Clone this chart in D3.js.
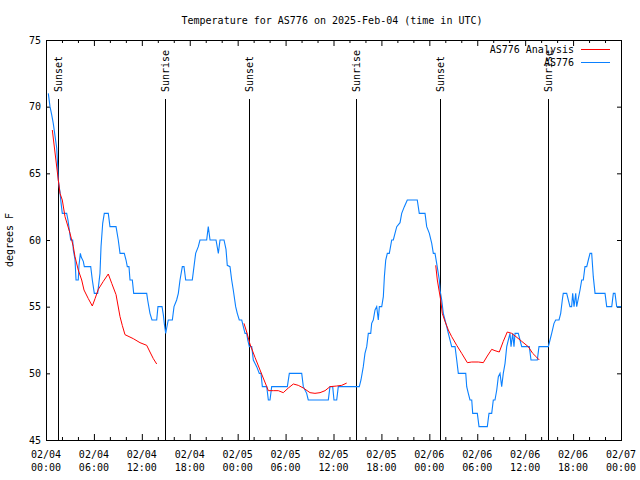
<!DOCTYPE html>
<html><head><meta charset="utf-8">
<script src="https://cdn.jsdelivr.net/npm/d3@7"></script>
<style>
body{margin:0;background:#fff;}
text{font-family:"DejaVu Sans Mono","Liberation Mono",monospace;font-size:10px;fill:#000;}
</style></head>
<body><svg id="c" width="640" height="480"></svg>
<script>
// hours since 2025-02-04 00:00 UTC
const chartTitle = "Temperature for AS776 on 2025-Feb-04 (time in UTC)";
const yLabel = "degrees F";
const seriesNames = ["AS776 Analysis", "AS776"];
const yTicks = [45, 50, 55, 60, 65, 70, 75];
const xTickHours = [0, 6, 12, 18, 24, 30, 36, 42, 48, 54, 60, 66, 72];
const xTickLabels = [["02/04","00:00"],["02/04","06:00"],["02/04","12:00"],["02/04","18:00"],["02/05","00:00"],["02/05","06:00"],["02/05","12:00"],["02/05","18:00"],["02/06","00:00"],["02/06","06:00"],["02/06","12:00"],["02/06","18:00"],["02/07","00:00"]];
const sunEvents = [[1.46,"Sunset"],[14.93,"Sunrise"],[25.37,"Sunset"],[38.84,"Sunrise"],[49.35,"Sunset"],[62.87,"Sunrise"]];

const obs = [[0.29,71],[0.50,70],[0.71,69.4],[0.91,68.75],[1.34,66.9],[1.47,65.5],[1.54,64.5],[1.75,63.6],[1.88,62.8],[2.04,62],[2.59,62],[2.75,61.5],[2.92,60.75],[3.09,60],[3.34,60],[3.42,59.25],[3.63,58.55],[3.76,57],[4.04,57],[4.13,58.1],[4.30,59],[4.42,58.7],[4.67,58.4],[4.80,58],[5.60,58],[5.80,57],[6.05,56],[6.47,56],[6.76,57.5],[6.89,59.5],[7.10,61.25],[7.30,62],[7.80,62],[8.01,61],[8.77,61],[9.05,60],[9.27,59],[9.80,59],[10.02,58.5],[10.18,58],[10.39,58],[10.52,57],[10.81,57],[10.98,56],[12.61,56],[12.73,55.5],[13.02,54.5],[13.27,54],[13.86,54],[14.02,55],[14.53,55],[14.69,54.4],[14.81,53.75],[14.99,53],[15.11,53.4],[15.31,54],[15.82,54],[16.03,55],[16.36,55.5],[16.57,56],[16.78,57],[17.07,58],[17.28,58],[17.49,57],[18.32,57],[18.53,58],[18.74,59],[19.07,59.5],[19.28,60],[20.12,60],[20.32,61],[20.54,60],[21.29,60],[21.58,59],[21.79,60],[22.29,60],[22.54,59.3],[22.70,58.1],[23.04,58],[23.25,57],[23.45,56.25],[23.75,55],[23.95,54.5],[24.20,54],[24.51,54],[24.71,53.5],[24.92,53],[25.13,53],[25.26,52.5],[25.46,52],[25.76,52],[25.96,51],[26.38,50.5],[26.71,50],[26.92,50],[27.09,49],[27.64,49],[27.84,48],[28.05,48],[28.26,49],[30.22,49],[30.47,50],[32.02,50],[32.22,49],[32.64,48.5],[32.84,48],[35.35,48],[35.56,49],[35.90,49],[36.06,48],[36.40,48],[36.60,49],[39.23,49],[39.44,49.5],[39.73,50.5],[39.94,51.5],[40.16,52],[40.36,53],[40.66,53],[40.78,53.75],[40.98,54],[41.20,54.75],[41.41,55],[41.61,54],[41.74,55],[42.04,55],[42.24,55.75],[42.37,57.25],[42.54,58.5],[42.74,59],[42.99,59],[43.29,60],[43.49,60],[43.70,60.5],[43.92,61],[44.33,61.3],[44.54,62],[44.87,62.5],[45.24,63],[46.49,63],[46.74,62],[47.46,62],[47.67,61],[48.00,60.5],[48.30,59.75],[48.50,59],[48.71,59],[48.92,58.25],[49.12,57.5],[49.25,57],[49.34,56.25],[49.55,55.5],[49.75,54.5],[49.96,54],[50.18,53.5],[50.38,53],[50.80,52],[51.22,52],[51.43,51],[51.63,50],[52.56,50],[52.68,49],[52.88,48.5],[53.09,48],[53.31,48],[53.43,47],[54.01,47],[54.22,46],[55.26,46],[55.47,47],[55.81,47],[56.01,48],[56.22,48],[56.44,48.75],[56.64,49.75],[56.85,50],[57.06,49],[57.26,50],[57.48,50.75],[57.69,52],[58.10,53],[58.23,52],[58.44,53],[58.60,52],[58.73,53],[59.14,53],[59.35,52.5],[59.57,52],[60.52,52],[60.73,51],[61.52,51],[61.73,52],[62.90,52],[63.11,52.5],[63.32,53],[63.61,53.75],[63.82,54],[64.24,54],[64.45,54.5],[64.65,55.5],[64.77,56],[65.20,56],[65.61,55],[65.82,55],[65.95,56],[66.12,55],[66.33,56],[66.45,55],[66.87,56.25],[67.08,57],[67.28,57],[67.49,58],[67.71,58],[67.91,58.5],[68.12,59],[68.33,59],[68.53,57.25],[68.75,56],[70.00,56],[70.21,55],[70.84,55],[71.04,56],[71.25,56],[71.46,55],[72.00,55]];

const analysis1 = [[0.79,68.25],[1.54,64.5],[1.75,63.5],[2.04,63],[2.38,61.75],[3.01,60.5],[3.42,59.5],[3.63,58.75],[4.04,57.75],[4.47,57],[4.76,56.25],[5.30,55.6],[5.80,55.05],[6.14,55.6],[6.55,56.3],[7.18,56.9],[7.80,57.45],[8.23,56.75],[8.77,55.9],[9.27,54.25],[9.55,53.6],[9.89,52.9],[10.93,52.6],[11.77,52.3],[12.61,52.1],[13.02,51.6],[13.44,51.1],[13.86,50.7]];
const analysis2 = [[24.79,53.75],[25.13,53.1],[25.54,52.2],[26.17,51.2],[26.80,50.25],[27.64,49],[27.84,48.7],[28.46,48.7],[29.09,48.7],[29.71,48.55],[30.34,48.9],[30.97,49.2],[31.59,49.1],[32.22,48.9],[33.06,48.55],[33.68,48.5],[34.31,48.55],[34.94,48.7],[35.56,49],[36.40,49.05],[37.03,49.1],[37.65,49.27]];
const analysis3 = [[48.80,58.1],[49.00,57],[49.21,56.25],[49.42,55.5],[49.62,54.5],[49.96,53.9],[50.38,53.25],[50.80,52.75],[51.43,52.1],[52.05,51.5],[52.76,50.8],[53.31,50.85],[54.13,50.85],[54.76,50.8],[55.26,51.3],[55.81,51.8],[56.22,51.7],[56.76,51.6],[57.26,52.4],[57.76,53.1],[58.31,53],[58.85,52.75],[59.57,52.4],[60.39,52],[60.94,51.5],[61.45,51.2],[61.77,51]];

const BLUE = "#0a80ff", RED = "#ff0000";
const t0 = Date.UTC(2025,1,4,0,0);
const toDate = h => new Date(t0 + h*3600e3);

const svg = d3.select("#c");
const L = 46, R = 621, T = 40, B = 440;
const x = d3.scaleUtc().domain([toDate(0), toDate(72)]).range([L, R]);
const y = d3.scaleLinear().domain([45, 75]).range([B, T]);

svg.append("rect").attr("width",640).attr("height",480).attr("fill","#fff");

// minor ticks every 2h
const minorH = d3.range(0, 73, 2).filter(h => h % 6 !== 0);
const majorDates = xTickHours.map(toDate);
const bottomMajor = d3.axisBottom(x).tickValues(majorDates).tickSize(-6).tickFormat("");
const bottomMinor = d3.axisBottom(x).tickValues(minorH.map(toDate)).tickSize(-3).tickFormat("");
const topMajor = d3.axisTop(x).tickValues(majorDates).tickSize(-6).tickFormat("");
const topMinor = d3.axisTop(x).tickValues(minorH.map(toDate)).tickSize(-3).tickFormat("");
const leftAx = d3.axisLeft(y).tickValues(yTicks).tickSize(-4).tickPadding(5).tickFormat(d3.format("d"));
const rightAx = d3.axisRight(y).tickValues(yTicks).tickSize(-4).tickFormat("");

function style(g){ g.select(".domain").remove(); g.selectAll("line").attr("stroke","#000"); g.selectAll("text").attr("font-family",null).attr("font-size",null).attr("fill","#000"); }
svg.append("g").attr("transform",`translate(0,${B})`).call(bottomMajor).call(style);
svg.append("g").attr("transform",`translate(0,${B})`).call(bottomMinor).call(style);
svg.append("g").attr("transform",`translate(0,${T})`).call(topMajor).call(style);
svg.append("g").attr("transform",`translate(0,${T})`).call(topMinor).call(style);
svg.append("g").attr("transform",`translate(${L},0)`).call(leftAx).call(style);
svg.append("g").attr("transform",`translate(${R},0)`).call(rightAx).call(style);

// x tick labels (two lines)
const xl = svg.append("g").selectAll("text").data(xTickHours).join("text")
  .attr("x", (h) => x(toDate(h))).attr("y", 458).attr("text-anchor","middle");
xl.append("tspan").attr("x", h => x(toDate(h))).text((h,i) => xTickLabels[i][0]);
xl.append("tspan").attr("x", h => x(toDate(h))).attr("dy", 13).text((h,i) => xTickLabels[i][1]);

// frame
svg.append("rect").attr("x",L+0.5).attr("y",T+0.5).attr("width",R-L).attr("height",B-T)
  .attr("fill","none").attr("stroke","#000").attr("stroke-width",1);

// title, y label
svg.append("text").attr("x",332).attr("y",24).attr("text-anchor","middle").text(chartTitle);
svg.append("text").attr("transform","translate(13,240) rotate(-90)").attr("text-anchor","middle").text(yLabel);

// sun events
const sg = svg.append("g");
sunEvents.forEach(([h,lab]) => {
  const px = Math.round(x(toDate(h))) + 0.5;
  sg.append("line").attr("x1",px).attr("x2",px).attr("y1",99).attr("y2",B).attr("stroke","#000").attr("stroke-width",1);
  sg.append("text").attr("transform",`translate(${px+3.5},92) rotate(-90)`).attr("text-anchor","start").text(lab);
});

// series
const line = d3.line().x(d => x(toDate(d[0]))).y(d => y(d[1]));
svg.append("path").datum(obs).attr("d", line).attr("fill","none").attr("stroke",BLUE).attr("stroke-width",1.1);
[analysis1, analysis2, analysis3].forEach(s => {
  svg.append("path").datum(s).attr("d", line).attr("fill","none").attr("stroke",RED).attr("stroke-width",1);
});

// legend
const leg = [[seriesNames[0],RED,53],[seriesNames[1],BLUE,66]];
leg.forEach(([n,c,yy]) => {
  svg.append("text").attr("x",574).attr("y",yy).attr("text-anchor","end").text(n);
  svg.append("line").attr("x1",581).attr("x2",610).attr("y1",yy-3.5).attr("y2",yy-3.5).attr("stroke",c).attr("stroke-width",1);
});
</script></body></html>
